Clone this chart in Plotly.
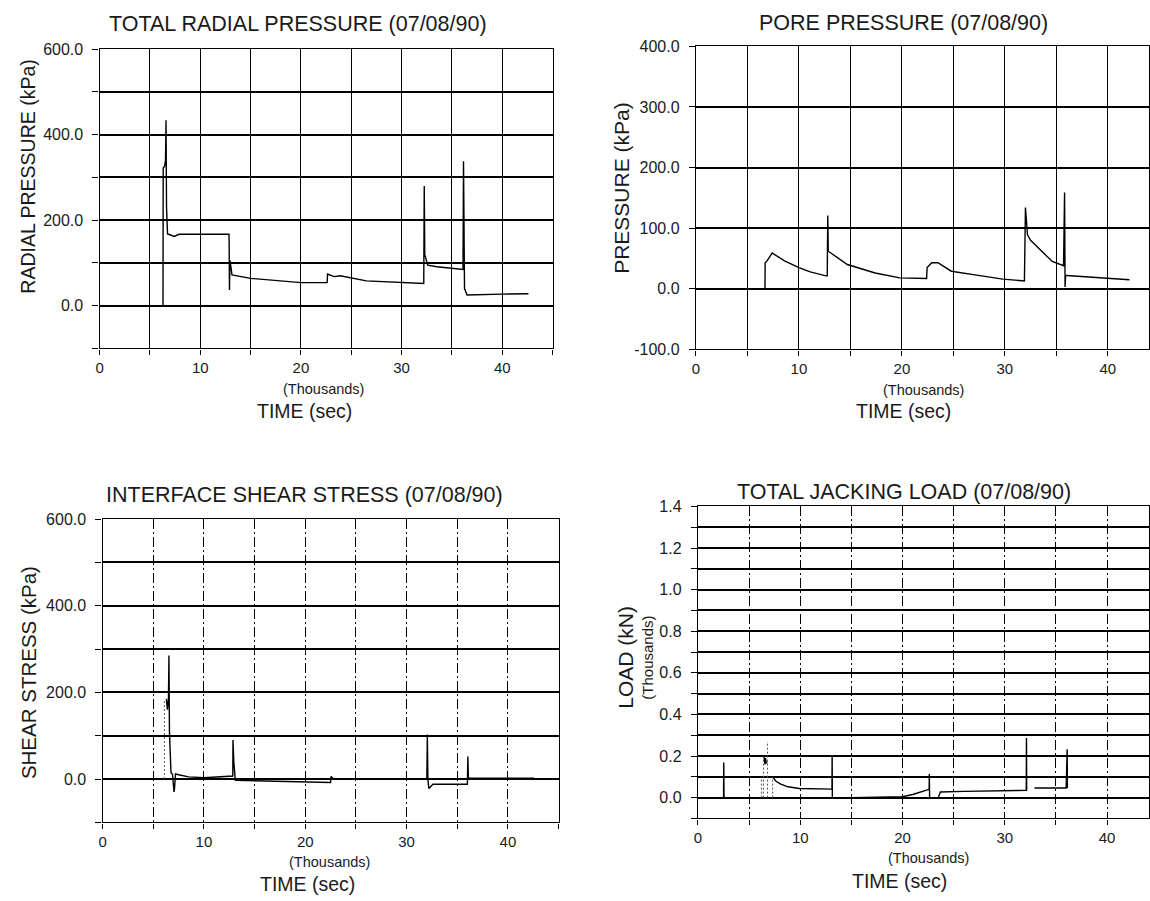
import plotly.graph_objects as go

# ---- data (time in thousands of seconds) ----
# Total radial pressure (kPa)
radial_t = [0, 6.3, 6.32, 6.45, 6.55, 6.6, 6.65, 6.75, 7.0, 7.4, 7.9, 10.0, 12.0, 12.85,
            12.87, 12.9, 12.95, 13.05, 13.15, 15.0, 17.7, 20.0, 22.6, 22.65, 23.3, 23.9,
            26.5, 30.9, 32.2, 32.25, 32.3, 32.6, 33.5, 36.1, 36.15, 36.25, 36.5, 40.0, 42.6]
radial_p = [0, 0, 322, 326, 340, 434, 230, 168, 166, 162, 167, 167, 166, 167,
            149, 37, 106, 90, 72, 64, 59, 54, 54, 74, 68, 70,
            58, 54, 52, 280, 120, 95, 91, 85, 338, 40, 25, 27, 28]

# Pore pressure (kPa)
pore_t = [0, 6.7, 6.72, 6.9, 7.4, 8.6, 10.0, 11.1, 12.7, 12.75, 12.8, 12.85, 14.7,
          17.4, 19.8, 22.4, 22.45, 22.9, 23.5, 24.8, 27.1, 29.8, 31.9, 32.0, 32.2,
          32.5, 34.6, 35.7, 35.8, 35.85, 35.9, 36.0, 38.4, 40.1, 42.1]
pore_p = [0, 0, 43, 46, 59, 46, 35, 28, 21, 22, 121, 62, 40,
          26, 18, 17, 35, 43, 43, 29, 23, 16, 13, 134, 89,
          80, 45, 38, 159, 3, 22, 22, 19, 17, 15]

# Interface shear stress (kPa)
shear_t = [0, 6.1, None, 6.3, 6.4, 6.5, 6.55, 6.6, 6.75, 6.9, 7.05, 7.1, 7.2, 7.5,
           8.5, 10.0, 12.0, 12.85, 12.87, 12.95, 13.1, 15.0, 17.5, 19.5, 22.5, 22.55,
           22.7, 22.8, 25.0, 28.0, 32.0, 32.05, 32.1, 32.2, 32.4, 32.6, 34.0, 36.0,
           36.05, 36.1, 36.2, 38.0, 40.0, 42.6]
shear_s = [0, 0, None, 185, 160, 185, 285, 110, 15, 11, -30, -22, 12, 10,
           5, 3, 5, 7, 90, 40, -3, -4, -6, -8, -8, 6,
           2, 0, 1, 1, 1, 103, 0, -22, -18, -12, -12, -12,
           52, 3, 2, 2, 2, 2]
# lightly plotted (sparse sampling) segment of the shear record
shear_faint_t = [6.1, 6.1]
shear_faint_s = [0, 185]

# Total jacking load (thousands of kN)
load_t = [2.5, 2.52, 2.55, 6.2, None, 6.45, 6.55, 6.6, 6.7, 6.75, None, 7.3, 7.6,
          8.1, 8.8, 9.9, 11.5, 13.1, 13.12, 13.14, 15.0, 20.0, 21.0,
          22.4, 22.6, 22.62, 22.65, 23.5, 23.7, 26.0, 29.0, 32.1, 32.12, 32.14,
          None, 32.9, 34.5, 36.0, 36.1, 36.12]
load_v = [0, 0.169, 0, 0, None, 0.2, 0.16, 0.19, 0.165, 0.17, None, 0.1, 0.08,
          0.065, 0.052, 0.044, 0.042, 0.041, 0.2, 0, 0, 0.004, 0.015,
          0.038, 0.04, 0.114, 0, 0, 0.027, 0.03, 0.032, 0.035, 0.287, 0.035,
          None, 0.046, 0.046, 0.046, 0.233, 0.046]
# lightly plotted (sparse sampling) segments of the load record
load_faint_t = [6.2, 6.2, None, 6.4, 6.4, None, 6.8, 6.8, None, 7.3, 7.3]
load_faint_v = [0, 0.1, None, 0, 0.2, None, 0, 0.27, None, 0, 0.1]

titles = ["TOTAL RADIAL PRESSURE (07/08/90)", "PORE PRESSURE (07/08/90)",
          "INTERFACE SHEAR STRESS (07/08/90)", "TOTAL JACKING LOAD (07/08/90)"]
y_titles = ["RADIAL PRESSURE (kPa)", "PRESSURE (kPa)", "SHEAR STRESS (kPa)", "LOAD (kN)"]
time_ticks = [0, 10, 20, 30, 40]
pore_ticks = [-100, 0, 100, 200, 300, 400]

# ---- layout helpers (pixel geometry) ----
W, H = 1150, 901
FONT = "Liberation Sans, Arial, Helvetica, sans-serif"
INK = "#1a1a1a"


def px(x):
    return x / W


def py(y):
    return 1 - y / H


fig = go.Figure()

series = [(radial_t, radial_p), (pore_t, pore_p), (shear_t, shear_s), (load_t, load_v)]
for i, (t, v) in enumerate(series):
    sfx = "" if i == 0 else str(i + 1)
    fig.add_trace(go.Scatter(x=t, y=v, mode="lines", xaxis="x" + sfx, yaxis="y" + sfx,
                             line=dict(color="black", width=1.4), showlegend=False,
                             connectgaps=False, hoverinfo="skip"))

for sfx, t, v in [("3", shear_faint_t, shear_faint_s), ("4", load_faint_t, load_faint_v)]:
    fig.add_trace(go.Scatter(x=t, y=v, mode="lines", xaxis="x" + sfx, yaxis="y" + sfx,
                             line=dict(color="#555555", width=1, dash="2px,2px"),
                             showlegend=False, connectgaps=False, hoverinfo="skip"))

# panel boxes: (x0, x1, y_top, y_bottom) in pixels
panels = [
    dict(box=(96, 551, 42, 347), xr=[0, 45], yr=[-100, 600], dt=200, mdt=100,
         vdash="solid"),
    dict(box=(695, 1150, 39, 348), xr=[0, 44.0], yr=[-100, 400], dt=100, mdt=100,
         vdash="solid"),
    dict(box=(99, 557, 521, 830), xr=[0, 45], yr=[-100, 600], dt=200, mdt=100,
         vdash="10px,3px,2px,3px"),
    dict(box=(697, 1150, 508, 826), xr=[0, 44.1], yr=[-0.1, 1.4], dt=0.2, mdt=0.1,
         vdash="10px,3px,2px,3px"),
]

layout = dict(width=W, height=H, margin=dict(l=0, r=0, t=0, b=0),
              paper_bgcolor="white", plot_bgcolor="white", showlegend=False,
              font=dict(family=FONT, color=INK))

YTICKFONT = dict(family=FONT, size=16, color=INK)
XTICKFONT = dict(family=FONT, size=15, color=INK)

for i, p in enumerate(panels):
    sfx = "" if i == 0 else str(i + 1)
    x0, x1, yt, yb = p["box"]
    layout["xaxis" + sfx] = dict(
        domain=[px(x0), px(x1)], range=p["xr"], anchor="y" + sfx,
        tickmode="array", tickvals=time_ticks, ticktext=[str(v) for v in time_ticks],
        showgrid=True, gridcolor="black", gridwidth=1.2, griddash=p["vdash"],
        zeroline=False, showline=True, linecolor="black", linewidth=1.4, mirror=True,
        ticks="outside", ticklen=5, tickcolor="black", tickfont=XTICKFONT,
        minor=dict(tick0=0, dtick=5, showgrid=True, gridcolor="black", gridwidth=1.2,
                   griddash=p["vdash"], ticks="outside", ticklen=5, tickcolor="black"),
        fixedrange=True)
    yax = dict(
        domain=[py(yb), py(yt)], range=p["yr"], anchor="x" + sfx,
        tick0=0, dtick=p["dt"], tickformat=".1f", showgrid=True, gridcolor="black",
        gridwidth=1.6, zeroline=False,
        showline=True, linecolor="black", linewidth=1.4, mirror=True,
        ticks="outside", ticklen=6, tickcolor="black", ticklabelstandoff=6,
        tickfont=YTICKFONT,
        minor=dict(tick0=0, dtick=p["mdt"], showgrid=True, gridcolor="black",
                   gridwidth=1.6, ticks="outside", ticklen=6, tickcolor="black"),
        fixedrange=True)
    if i == 1:
        # plain hyphen for the negative label
        yax.update(tickmode="array", tickvals=pore_ticks,
                   ticktext=[f"{v:.1f}" for v in pore_ticks])
    layout["yaxis" + sfx] = yax

fig.update_layout(**layout)


def label(text, x, y, size, angle=0):
    fig.add_annotation(text=text, x=px(x), y=py(y), xref="paper", yref="paper",
                       showarrow=False, textangle=angle, xanchor="center",
                       yanchor="middle", font=dict(family=FONT, size=size, color=INK))


# panel titles
label(titles[0], 295, 16, 21.5)
label(titles[1], 903, 15, 21.5)
label(titles[2], 302, 496, 21.5)
label(titles[3], 904, 493, 21.5)

# y-axis titles
label(y_titles[0], 24, 172, 19.5, -90)
label(y_titles[1], 620, 183, 21, -90)
label(y_titles[2], 24, 677, 20.5, -90)
label(y_titles[3], 624, 662, 21, -90)
label("(Thousands)", 646, 662, 15, -90)

# x-axis unit and title lines
label("(Thousands)", 321, 388, 14.5)
label("TIME (sec)", 302, 411, 19.5)
label("(Thousands)", 924, 389, 14.5)
label("TIME (sec)", 903, 411, 19.5)
label("(Thousands)", 327, 870, 14.5)
label("TIME (sec)", 305, 893, 19.5)
label("(Thousands)", 929, 866, 14.5)
label("TIME (sec)", 899, 890, 19.5)

fig.write_html("out.html")
